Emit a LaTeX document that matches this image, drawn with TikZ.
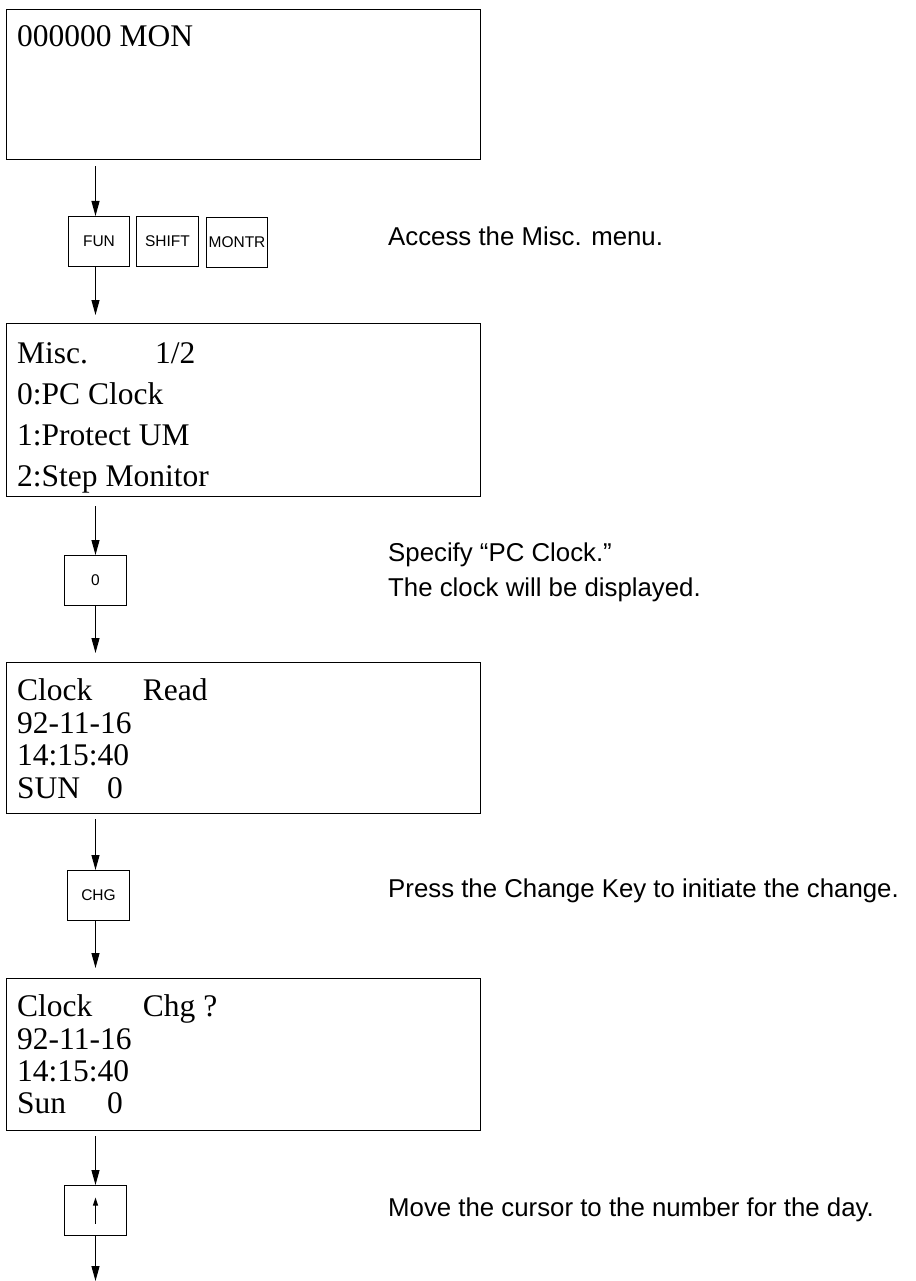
\documentclass[tikz,border=0pt]{standalone}
\usepackage{fontspec}
\setmainfont{Liberation Serif}
\newfontfamily\arial{Liberation Sans}
\usetikzlibrary{arrows.meta}
\begin{document}
\begin{tikzpicture}[x=1pt,y=-1pt,
  screen/.style={draw, line width=1.1pt, rectangle, inner sep=0pt, anchor=north west, minimum width=474pt},
  keybox/.style={draw, line width=1pt, rectangle, inner sep=0pt, anchor=north west, minimum height=50pt, font=\arial\fontsize{15.5}{18}\selectfont},
  lcd/.style={inner sep=0pt, anchor=base west, font=\fontsize{31.5}{36}\selectfont},
  note/.style={inner sep=0pt, anchor=base west, font=\arial\fontsize{25.8}{30}\selectfont},
  flow/.style={line width=1.1pt, -{Triangle[length=15pt,width=8pt]}},
]
\useasboundingbox (0,0) rectangle (915,1281);
% screens
\node[screen, minimum height=150pt] (s1) at (6,9) {};
\node[screen, minimum height=173pt] (s2) at (6,323) {};
\node[screen, minimum height=151pt] (s3) at (6,662) {};
\node[screen, minimum height=152pt] (s4) at (6,978) {};
% screen texts
\node[lcd] (t1) at (17,46.7) {000000 MON};
\node[lcd] (t2a) at (17,363) {\makebox[138pt][l]{Misc.}1/2};
\node[lcd] (t2b) at (17,404) {0:PC Clock};
\node[lcd] (t2c) at (17,445) {1:Protect UM};
\node[lcd] (t2d) at (17,486) {2:Step Monitor};
\node[lcd] (t3a) at (17,700.7) {\makebox[125.7pt][l]{Clock}Read};
\node[lcd] (t3b) at (17,733.3) {92-11-16};
\node[lcd] (t3c) at (17,765.7) {14:15:40};
\node[lcd] (t3d) at (17,798.3) {\makebox[90pt][l]{SUN}0};
\node[lcd] (t4a) at (17,1016.7) {\makebox[125.7pt][l]{Clock}Chg ?};
\node[lcd] (t4b) at (17,1049) {92-11-16};
\node[lcd] (t4c) at (17,1081.3) {14:15:40};
\node[lcd] (t4d) at (17,1113.7) {\makebox[90pt][l]{Sun}0};
% keys
\node[keybox, minimum width=61pt] (fun) at (68,216) {FUN};
\node[keybox, minimum width=62pt] (shift) at (136,216) {SHIFT};
\node[keybox, minimum width=61pt] (montr) at (206,217) {MONTR};
\node[keybox, minimum width=62pt] (k0) at (64,555) {0};
\node[keybox, minimum width=62pt] (chg) at (67,870) {CHG};
\node[keybox, minimum width=62pt] (up) at (64,1185) {};
\draw[line width=1pt, -{Triangle[length=8pt,width=5pt]}] ([yshift=-13pt]up.center) -- ([yshift=13pt]up.center);
% connectors
\coordinate (ax) at (95.5,0);
\coordinate (end) at (95.5,1281);
\draw[flow, shorten <=6pt] (s1.south -| ax) -- (fun.north -| ax);
\draw[flow, shorten >=8pt] (fun.south -| ax) -- (s2.north -| ax);
\draw[flow, shorten <=9pt] (s2.south -| ax) -- (k0.north -| ax);
\draw[flow, shorten >=9pt] (k0.south -| ax) -- (s3.north -| ax);
\draw[flow, shorten <=5pt] (s3.south -| ax) -- (chg.north -| ax);
\draw[flow, shorten >=10pt] (chg.south -| ax) -- (s4.north -| ax);
\draw[flow, shorten <=5pt] (s4.south -| ax) -- (up.north -| ax);
\draw[flow] (up.south -| ax) -- (end);
% notes
\node[note] (n1) at (388,246) {Access the Misc. menu.};
\node[note] (n2) at (388,561) {Specify “PC Clock.”};
\node[note] (n3) at (388,596) {The clock will be displayed.};
\node[note] (n4) at (388,897) {Press the Change Key to initiate the change.};
\node[note] (n5) at (388,1216) {Move the cursor to the number for the day.};
\end{tikzpicture}
\end{document}
